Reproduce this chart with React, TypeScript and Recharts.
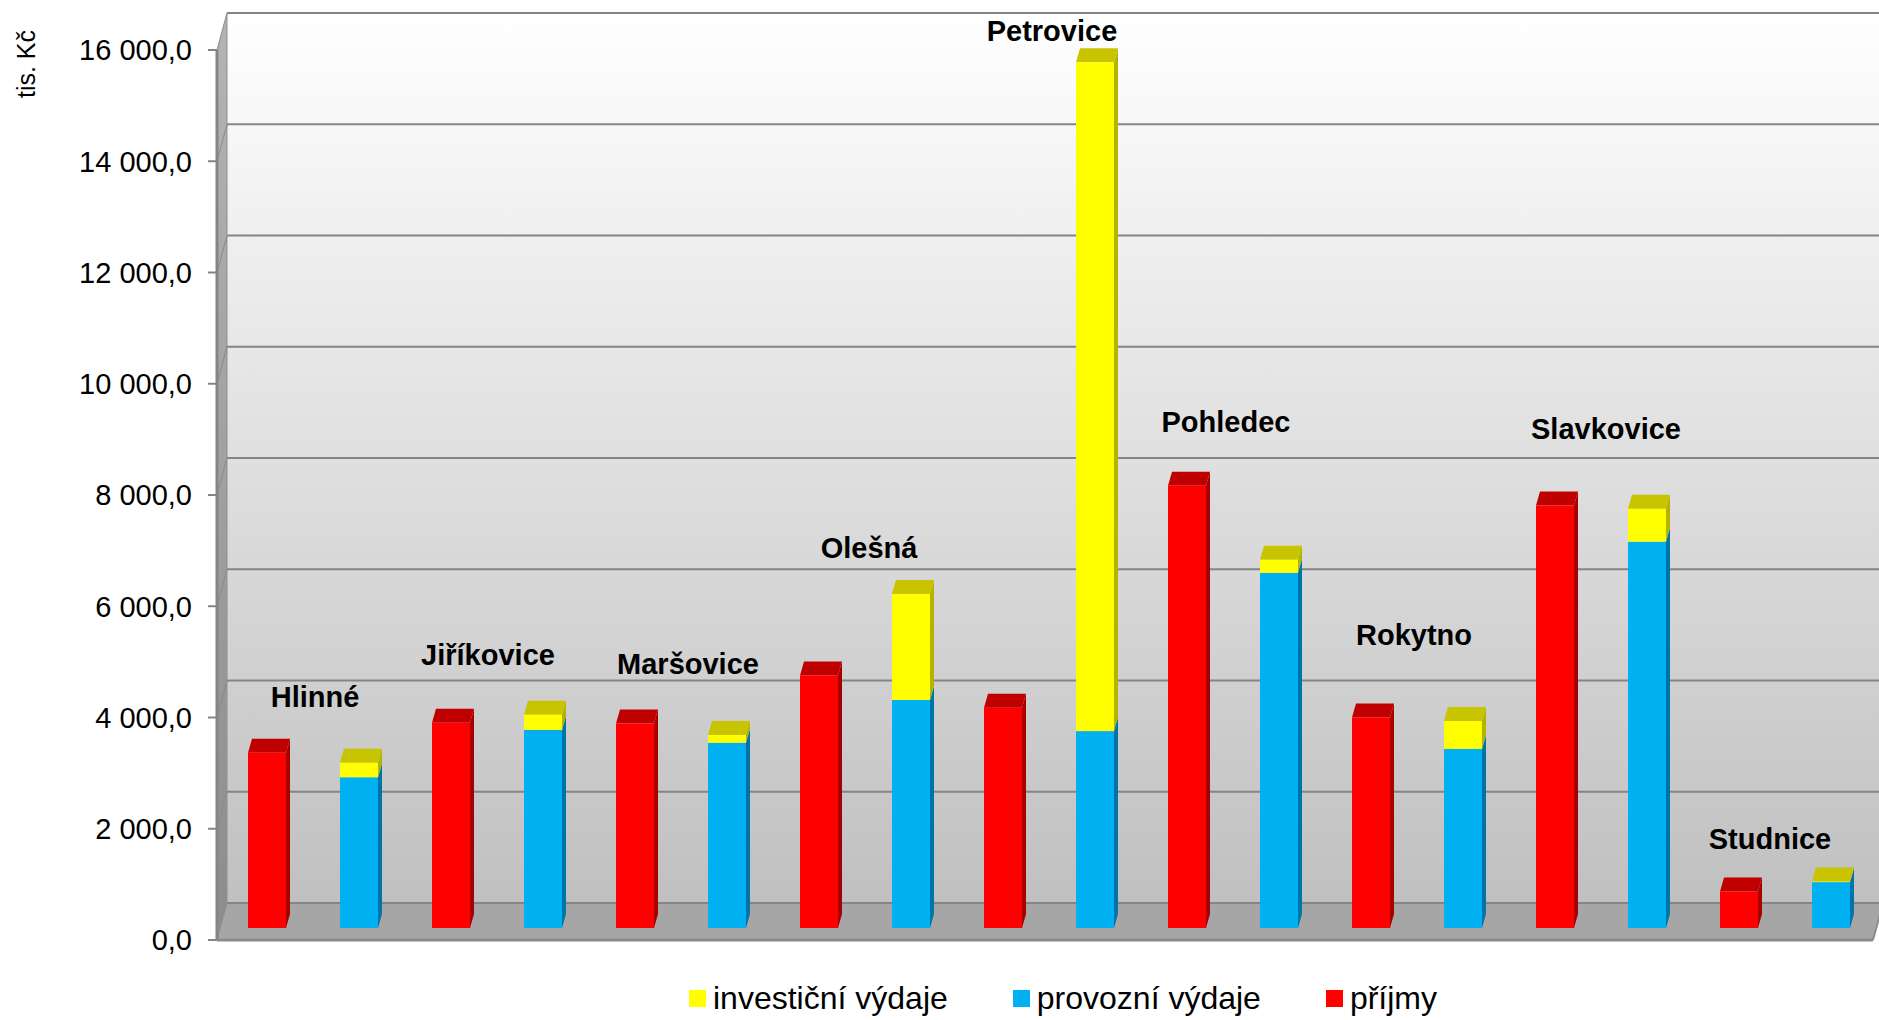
import {
  Bar,
  CartesianGrid,
  ComposedChart,
  LabelList,
  Label,
  Legend,
  Line,
  ReferenceArea,
  XAxis,
  YAxis,
} from "recharts"

const municipalities = [
  "Hlinné",
  "Jiříkovice",
  "Maršovice",
  "Olešná",
  "Petrovice",
  "Pohledec",
  "Rokytno",
  "Slavkovice",
  "Studnice",
]

// tis. Kč
const prijmy = [3150, 3690, 3675, 4540, 3960, 7950, 3785, 7595, 655]
const provozniVydaje = [2710, 3560, 3330, 4100, 3540, 6385, 3220, 6945, 825]
const investicniVydaje = [260, 275, 140, 1905, 12025, 235, 500, 590, 10]

const yTicks = [0, 2000, 4000, 6000, 8000, 10000, 12000, 14000, 16000]

const legendOrder = [
  { name: "investiční výdaje", color: "#FFFF00" },
  { name: "provozní výdaje", color: "#00B0F0" },
  { name: "příjmy", color: "#FF0000" },
]

const data = municipalities.map((name, i) => ({
  name,
  prijmy: prijmy[i],
  provozni: provozniVydaje[i],
  investicni: investicniVydaje[i],
  groupTop: Math.max(prijmy[i], provozniVydaje[i] + investicniVydaje[i]),
}))

// fake 3D depth
const WALL_DX = 10
const WALL_DY = 37
const BAR_DX = 4
const BAR_DY = 14
const BAR_SHIFT_X = 4
const BAR_SHIFT_Y = 12

// [dx, lift] for the municipality names above each group
const nameNudge = [
  [6, 68], [-5, 72], [11, 72], [8, 58], [7, 43], [-3, 76], [1, 94], [9, 89], [-11, 55],
]

const FONT = '"Liberation Sans", Arial, sans-serif'

const fmt = (v: number) =>
  String(Math.round(v)).replace(/\B(?=(\d{3})+(?!\d))/g, " ") + ",0"

function box3d(front: string, top: string, side: string, withTop: boolean) {
  return (props: any) => {
    const { x, y, width, height } = props
    if (x == null || y == null || !width) return <g />
    const fx = x + BAR_SHIFT_X
    const fy = y - BAR_SHIFT_Y
    const h = Math.max(height, 0)
    return (
      <g>
        <polygon
          points={`${fx + width},${fy} ${fx + width + BAR_DX},${fy - BAR_DY} ${fx + width + BAR_DX},${fy + h - BAR_DY} ${fx + width},${fy + h}`}
          fill={side}
        />
        {withTop && (
          <polygon
            points={`${fx},${fy} ${fx + BAR_DX},${fy - BAR_DY} ${fx + width + BAR_DX},${fy - BAR_DY} ${fx + width},${fy}`}
            fill={top}
          />
        )}
        <rect x={fx} y={fy} width={width} height={h} fill={front} />
      </g>
    )
  }
}

function WallBox(props: any) {
  const { x, y, width, height } = props
  const b = y + height
  return (
    <g>
      <defs>
        <linearGradient id="wallGrad" x1="0" y1="0" x2="0" y2="1">
          <stop offset="0%" stopColor="#ffffff" />
          <stop offset="100%" stopColor="#c0c0c0" />
        </linearGradient>
        <linearGradient id="sideGrad" x1="0" y1="0" x2="0" y2="1">
          <stop offset="0%" stopColor="#b4b4b4" />
          <stop offset="100%" stopColor="#8c8c8c" />
        </linearGradient>
      </defs>
      <rect x={x + WALL_DX} y={y - WALL_DY} width={width} height={height} fill="url(#wallGrad)" />
      <polygon
        points={`${x},${y} ${x + WALL_DX},${y - WALL_DY} ${x + WALL_DX},${b - WALL_DY} ${x},${b}`}
        fill="url(#sideGrad)"
      />
      <polygon
        points={`${x},${b} ${x + WALL_DX},${b - WALL_DY} ${x + width + WALL_DX},${b - WALL_DY} ${x + width},${b}`}
        fill="#a6a6a6"
      />
      <line x1={x + WALL_DX} y1={y - WALL_DY} x2={x + WALL_DX} y2={b - WALL_DY} stroke="#8f8f8f" strokeWidth={1} />
      <line x1={x + width} y1={b} x2={x + width + WALL_DX} y2={b - WALL_DY} stroke="#8c8c8c" strokeWidth={2} />
      <line x1={x} y1={b} x2={x + width} y2={b} stroke="#8c8c8c" strokeWidth={3} />
    </g>
  )
}

function gridLine(p: any) {
  const { x1, y1, x2, index } = p
  return (
    <g key={`grid-${index}`}>
      <line x1={x1} y1={y1} x2={x1 + WALL_DX} y2={y1 - WALL_DY} stroke="#8a8a8a" strokeWidth={1} />
      <line x1={x1 + WALL_DX} y1={y1 - WALL_DY} x2={x2 + WALL_DX} y2={y1 - WALL_DY} stroke="#858585" strokeWidth={2} />
    </g>
  )
}

function NameLabel(props: any) {
  const { x, y, value, index } = props
  const [dx, lift] = nameNudge[index] || [0, 60]
  return (
    <text
      x={x + dx}
      y={y - lift}
      textAnchor="middle"
      dominantBaseline="central"
      fontFamily={FONT}
      fontWeight="bold"
      fontSize={29}
      fill="#000"
    >
      {value}
    </text>
  )
}

function LegendBox() {
  return (
    <div style={{ display: "flex", gap: 65, fontFamily: FONT, fontSize: 32, lineHeight: "40px", color: "#000" }}>
      {legendOrder.map((item) => (
        <div key={item.name} style={{ display: "flex", alignItems: "center", gap: 7 }}>
          <span style={{ display: "inline-block", width: 17, height: 17, background: item.color }} />
          <span>{item.name}</span>
        </div>
      ))}
    </div>
  )
}

export default function App() {
  return (
    <div style={{ position: "absolute", left: 0, top: 0, width: 1879, height: 1020, background: "#fff" }}>
      <ComposedChart
        width={1879}
        height={1020}
        data={data}
        margin={{ top: 50, right: 6, bottom: 80, left: 0 }}
        barSize={38}
        barGap={54}
      >
        <ReferenceArea y1={0} y2={16000} shape={WallBox} zIndex={-200} ifOverflow="visible" />
        <CartesianGrid vertical={false} horizontal={gridLine} />
        <XAxis dataKey="name" hide />
        <YAxis
          domain={[0, 16000]}
          ticks={yTicks}
          interval={0}
          width={217}
          tickSize={9}
          tickMargin={16}
          tickFormatter={fmt}
          axisLine={{ stroke: "#858585", strokeWidth: 3 }}
          tickLine={{ stroke: "#858585", strokeWidth: 2 }}
          tick={{ fill: "#000", fontSize: 29, fontFamily: FONT }}
        >
          <Label
            content={() => (
              <text
                x={26}
                y={64}
                transform="rotate(-90 26 64)"
                textAnchor="middle"
                dominantBaseline="central"
                fontFamily={FONT}
                fontSize={25}
                fill="#000"
              >
                tis. Kč
              </text>
            )}
          />
        </YAxis>
        <Bar dataKey="prijmy" name="příjmy" stackId="inc" fill="#FF0000" shape={box3d("#FF0000", "#C00000", "#A80000", true)} isAnimationActive={false} />
        <Bar dataKey="provozni" name="provozní výdaje" stackId="exp" fill="#00B0F0" shape={box3d("#00B0F0", "#0088BB", "#0074A6", false)} isAnimationActive={false} />
        <Bar dataKey="investicni" name="investiční výdaje" stackId="exp" fill="#FFFF00" shape={box3d("#FFFF00", "#C8C400", "#B4B400", true)} isAnimationActive={false} />
        <Line dataKey="groupTop" stroke="none" dot={false} activeDot={false} legendType="none" isAnimationActive={false}>
          <LabelList dataKey="name" content={NameLabel} />
        </Line>
        <Legend
          layout="horizontal"
          verticalAlign="middle"
          align="center"
          wrapperStyle={{ left: 689, top: 978, width: "auto", height: "auto" }}
          content={LegendBox}
        />
      </ComposedChart>
    </div>
  )
}
